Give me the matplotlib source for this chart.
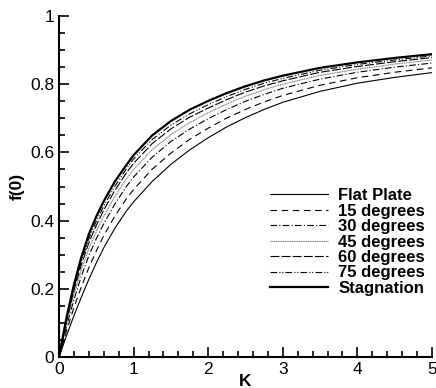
import matplotlib.pyplot as plt

# === データ ===
K = [0, 0.1, 0.2, 0.3, 0.4, 0.5, 0.6, 0.75, 0.9, 1, 1.25, 1.5, 1.75, 2,
     2.25, 2.5, 2.75, 3, 3.5, 4, 4.5, 5]
flat_plate = [0, .062, .121, .176, .228, .276, .320, .378, .427, .455, .515, .565,
              .607, .643, .675, .702, .726, .747, .779, .803, .820, .834]
deg15 = [0, .076, .145, .206, .262, .311, .356, .414, .463, .491, .551, .598,
         .638, .671, .701, .726, .748, .767, .797, .819, .835, .848]
deg30 = [0, .090, .168, .237, .297, .347, .391, .449, .499, .528, .586, .632,
         .668, .699, .726, .750, .770, .788, .815, .835, .850, .862]
deg45 = [0, .098, .183, .256, .318, .368, .413, .471, .521, .550, .608, .652,
         .687, .716, .742, .765, .784, .800, .826, .844, .859, .871]
deg60 = [0, .105, .195, .271, .335, .386, .431, .489, .539, .568, .626, .669,
         .703, .730, .755, .777, .795, .810, .835, .852, .866, .878]
deg75 = [0, .110, .203, .281, .347, .398, .443, .501, .551, .581, .638, .680,
         .713, .740, .764, .785, .803, .817, .841, .858, .871, .883]
stagnation = [0, .115, .212, .293, .360, .412, .457, .515, .562, .592, .650, .692,
              .725, .751, .774, .794, .811, .825, .848, .864, .877, .888]

labels = ["Flat Plate", "15 degrees", "30 degrees", "45 degrees",
          "60 degrees", "75 degrees", "Stagnation"]

plt.rcParams['font.family'] = ['Liberation Sans', 'DejaVu Sans']

fig = plt.figure(figsize=(4.36, 3.88), dpi=100)
ax = fig.add_axes([59 / 436, 31 / 388, 373 / 436, 341 / 388])

series = [flat_plate, deg15, deg30, deg45, deg60, deg75, stagnation]
styles = [
    dict(color='black', lw=0.8, ls='-'),
    dict(color='black', lw=0.8, ls=(0, (6, 4))),
    dict(color='black', lw=0.8, ls=(0, (6, 2, 1, 2))),
    dict(color='0.45', lw=0.8, ls=(0, (1, 0.6))),
    dict(color='black', lw=0.8, ls=(0, (8, 2))),
    dict(color='black', lw=0.8, ls=(0, (6, 2, 1, 1.5, 1, 2))),
    dict(color='black', lw=1.6, ls='-'),
]
for y, lab, st in zip(series, labels, styles):
    ax.plot(K, y, label=lab, **st)

ax.set_xlim(0, 5)
ax.set_ylim(0, 1)
ax.set_xticks([0, 1, 2, 3, 4, 5])
ax.set_xticks([i * 0.2 for i in range(26)], minor=True)
ax.set_yticks([0, 0.2, 0.4, 0.6, 0.8, 1])
ax.set_yticklabels(["0", "0.2", "0.4", "0.6", "0.8", "1"])
ax.set_yticks([i * 0.05 for i in range(21)], minor=True)
ax.tick_params(which='both', direction='in', width=1.2, labelsize=12.5)
ax.tick_params(which='major', length=7)
ax.tick_params(which='minor', length=4)
ax.spines['top'].set_visible(False)
ax.spines['right'].set_visible(False)
ax.spines['left'].set_linewidth(1.5)
ax.spines['bottom'].set_linewidth(1.5)

ax.set_xlabel("K", fontsize=12.5, fontweight='bold', labelpad=-2)
ax.set_ylabel("f(0)", fontsize=12.5, fontweight='bold', labelpad=4)

ax.legend(loc='upper left', bbox_to_anchor=(270 / 436, 1 - 188 / 388),
          bbox_transform=fig.transFigure, frameon=False,
          prop={'weight': 'bold', 'size': 12}, handlelength=3.5,
          handletextpad=0.6, labelspacing=0.03, borderpad=0, borderaxespad=0)

plt.savefig("out.png", dpi=100)
